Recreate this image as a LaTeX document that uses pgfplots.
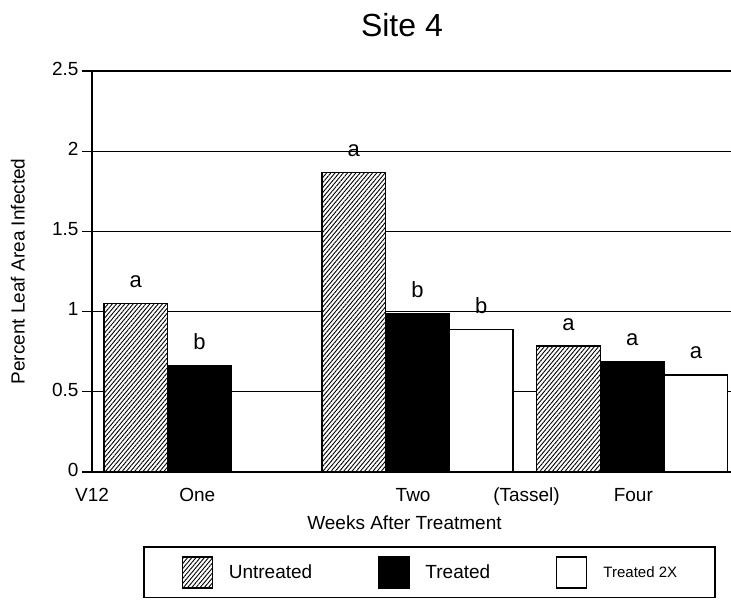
\documentclass[border=0pt]{standalone}
\usepackage{fontspec}
\setmainfont{Liberation Sans}
\usepackage{pgfplots}
\pgfplotsset{compat=1.18}
\usetikzlibrary{patterns.meta}

\pgfplotsset{
  sqlegend/.style={legend image code/.code={
    \draw[##1, draw=black, line width=1.2pt] (0pt,-15.5pt) rectangle (30pt,15.5pt);}},
}

\begin{document}
\begin{tikzpicture}
\useasboundingbox (0,0) rectangle (731pt,612pt);
\begin{axis}[
  at={(92pt,140pt)}, anchor=south west,
  scale only axis, width=639pt, height=401pt,
  xmin=0.507, xmax=3.438, ymin=0, ymax=2.5,
  axis x line*=bottom, axis y line*=left,
  x axis line style={line width=2.5pt},
  y axis line style={line width=1.5pt},
  clip=false,
  ybar=0pt, bar width=0.292,
  ytick={0,0.5,1,1.5,2,2.5},
  ymajorgrids, grid style={black, line width=1.3pt},
  tick align=outside, major tick length=10pt,
  ytick style={black, line width=1.3pt},
  xtick={0.507,0.99,1.98,2.5,2.99},
  xticklabels={V12,One,Two,(Tassel),Four},
  xtick style={draw=none},
  typeset ticklabels with strut,
  /pgf/number format/assume math mode=true,
  tick label style={font=\fontsize{19}{22}\selectfont},
  xticklabel style={yshift=-1pt},
  ylabel={Percent Leaf Area Infected},
  ylabel style={at={(axis description cs:-0.116,0.5)}, anchor=center,
    font=\fontsize{19}{22}\selectfont},
  xlabel={Weeks After Treatment},
  xlabel style={at={(axis description cs:0.489,-0.1446)}, anchor=base,
    font=\fontsize{19}{22}\selectfont},
  title={Site 4},
  every axis title shift=0pt,
  title style={at={(axis description cs:0.485,1.0848)}, anchor=base,
    font=\fontsize{32}{36}\selectfont},
  point meta=explicit symbolic,
  nodes near coords,
  every node near coord/.append style={anchor=base, yshift=16pt,
    inner sep=0pt, font=\fontsize{22}{24}\selectfont},
  legend columns=-1,
  legend style={at={(axis description cs:0.528,-0.2506)}, anchor=center,
    draw=black, line width=1.8pt, inner xsep=38pt, inner ysep=9pt,
    font=\fontsize{19}{22}\selectfont,
    nodes={inner sep=0pt},
    /tikz/every odd column/.append style={column sep=16pt},
    /tikz/every even column/.append style={column sep=66pt}},
  every axis plot/.append style={draw=black, line width=1.3pt},
]
  % Untreated
  \addplot[fill=white, postaction={pattern={Lines[angle=50,distance=3.2pt,line width=0.9pt]}}, sqlegend]
    coordinates {(1,1.05)[a] (2,1.865)[a] (2.985,0.785)[a]};
  \addlegendentry{Untreated}
  % Treated
  \addplot[fill=black, sqlegend]
    coordinates {(1,0.665)[b] (2,0.985)[b] (2.985,0.69)[a]};
  \addlegendentry{Treated}
  % Treated 2X
  \addplot[fill=white, sqlegend]
    coordinates {(2,0.89)[b] (2.985,0.605)[a]};
  \addlegendentry{{\fontsize{15}{18}\selectfont Treated 2X}}
\end{axis}
\end{tikzpicture}
\end{document}
